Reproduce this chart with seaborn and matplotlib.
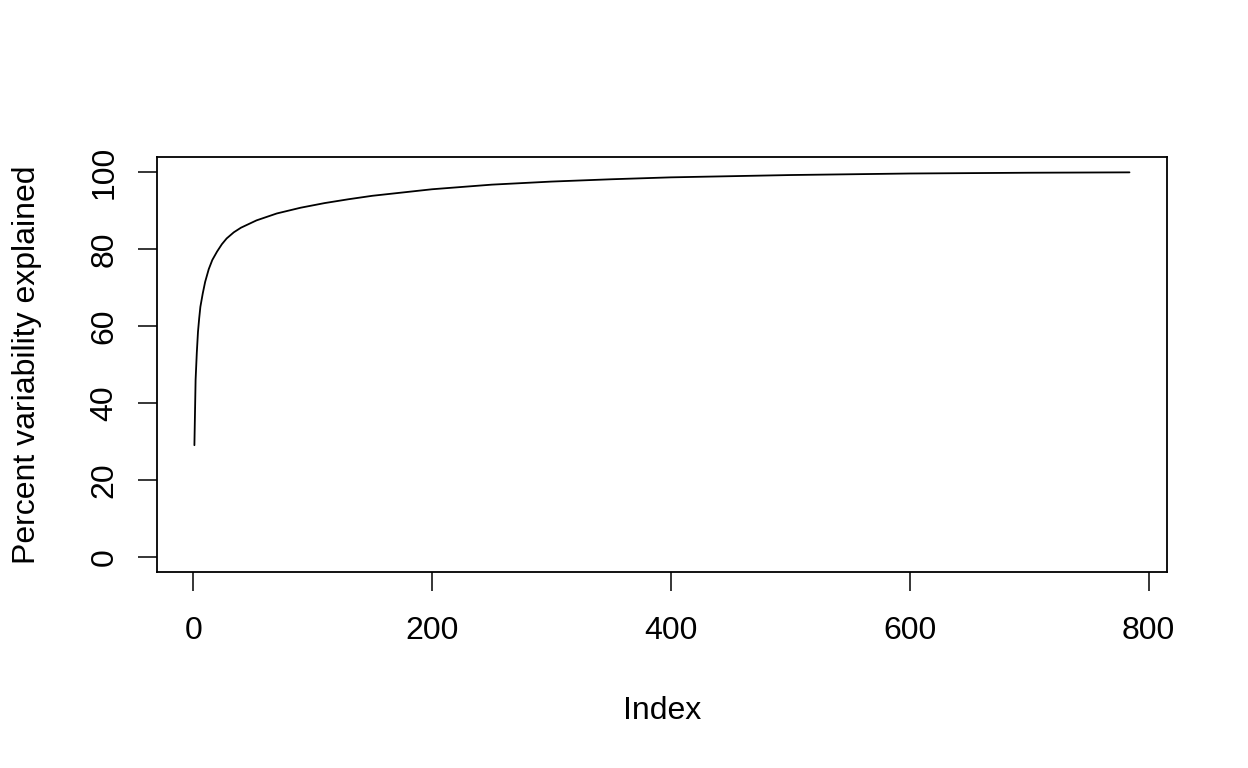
import numpy as np
import pandas as pd
import seaborn as sns
import matplotlib.pyplot as plt

# cumulative percent variability explained at selected indices
pc_index = [1, 2, 3, 4, 5, 6, 8, 10, 13, 16, 20, 24, 28, 34, 40, 53, 70, 90, 110, 130,
            150, 200, 250, 300, 350, 400, 450, 500, 600, 700, 784]
pct_explained = [29.0, 46.0, 53.0, 58.5, 62.0, 65.0, 68.5, 71.5, 74.8, 77.2, 79.4, 81.3,
                 82.8, 84.4, 85.6, 87.5, 89.3, 90.8, 92.0, 93.0, 93.9, 95.6, 96.8,
                 97.6, 98.2, 98.7, 99.0, 99.3, 99.7, 99.9, 100.0]
x_ticks = [0, 200, 400, 600, 800]
y_ticks = [0, 20, 40, 60, 80, 100]

df = pd.DataFrame({'Index': pc_index, 'pct': pct_explained})

sns.set_style('white')
plt.rcParams['font.family'] = ['Liberation Sans', 'DejaVu Sans']
plt.rcParams['text.color'] = 'black'
plt.rcParams['axes.labelcolor'] = 'black'
plt.rcParams['xtick.color'] = 'black'
plt.rcParams['ytick.color'] = 'black'

fig = plt.figure(figsize=(12.48, 7.68), dpi=100)
ax = fig.add_axes([0.1258, 0.2552, 0.935 - 0.1258, 0.7956 - 0.2552])

sns.lineplot(data=df, x='Index', y='pct', color='black', linewidth=1.3, ax=ax)

# R-style 4% padding around the data range
ax.set_xlim(1 - 0.04 * 783, 784 + 0.04 * 783)
ax.set_ylim(-4, 104)
ax.set_xticks(x_ticks)
ax.set_yticks(y_ticks)

for s in ax.spines.values():
    s.set_visible(True)
    s.set_color('black')
    s.set_linewidth(1.3)

ax.tick_params(axis='both', which='major', direction='out', length=14, width=1.1,
               labelsize=23, left=True, bottom=True)
ax.tick_params(axis='x', pad=18)
ax.tick_params(axis='y', pad=13, labelrotation=90)
for lbl in ax.get_yticklabels():
    lbl.set_verticalalignment('center')

ax.set_xlabel('Index', fontsize=23, labelpad=36)
ax.set_ylabel('Percent variability explained', fontsize=23, labelpad=34)

fig.savefig('out.png', dpi=100, facecolor='white')
